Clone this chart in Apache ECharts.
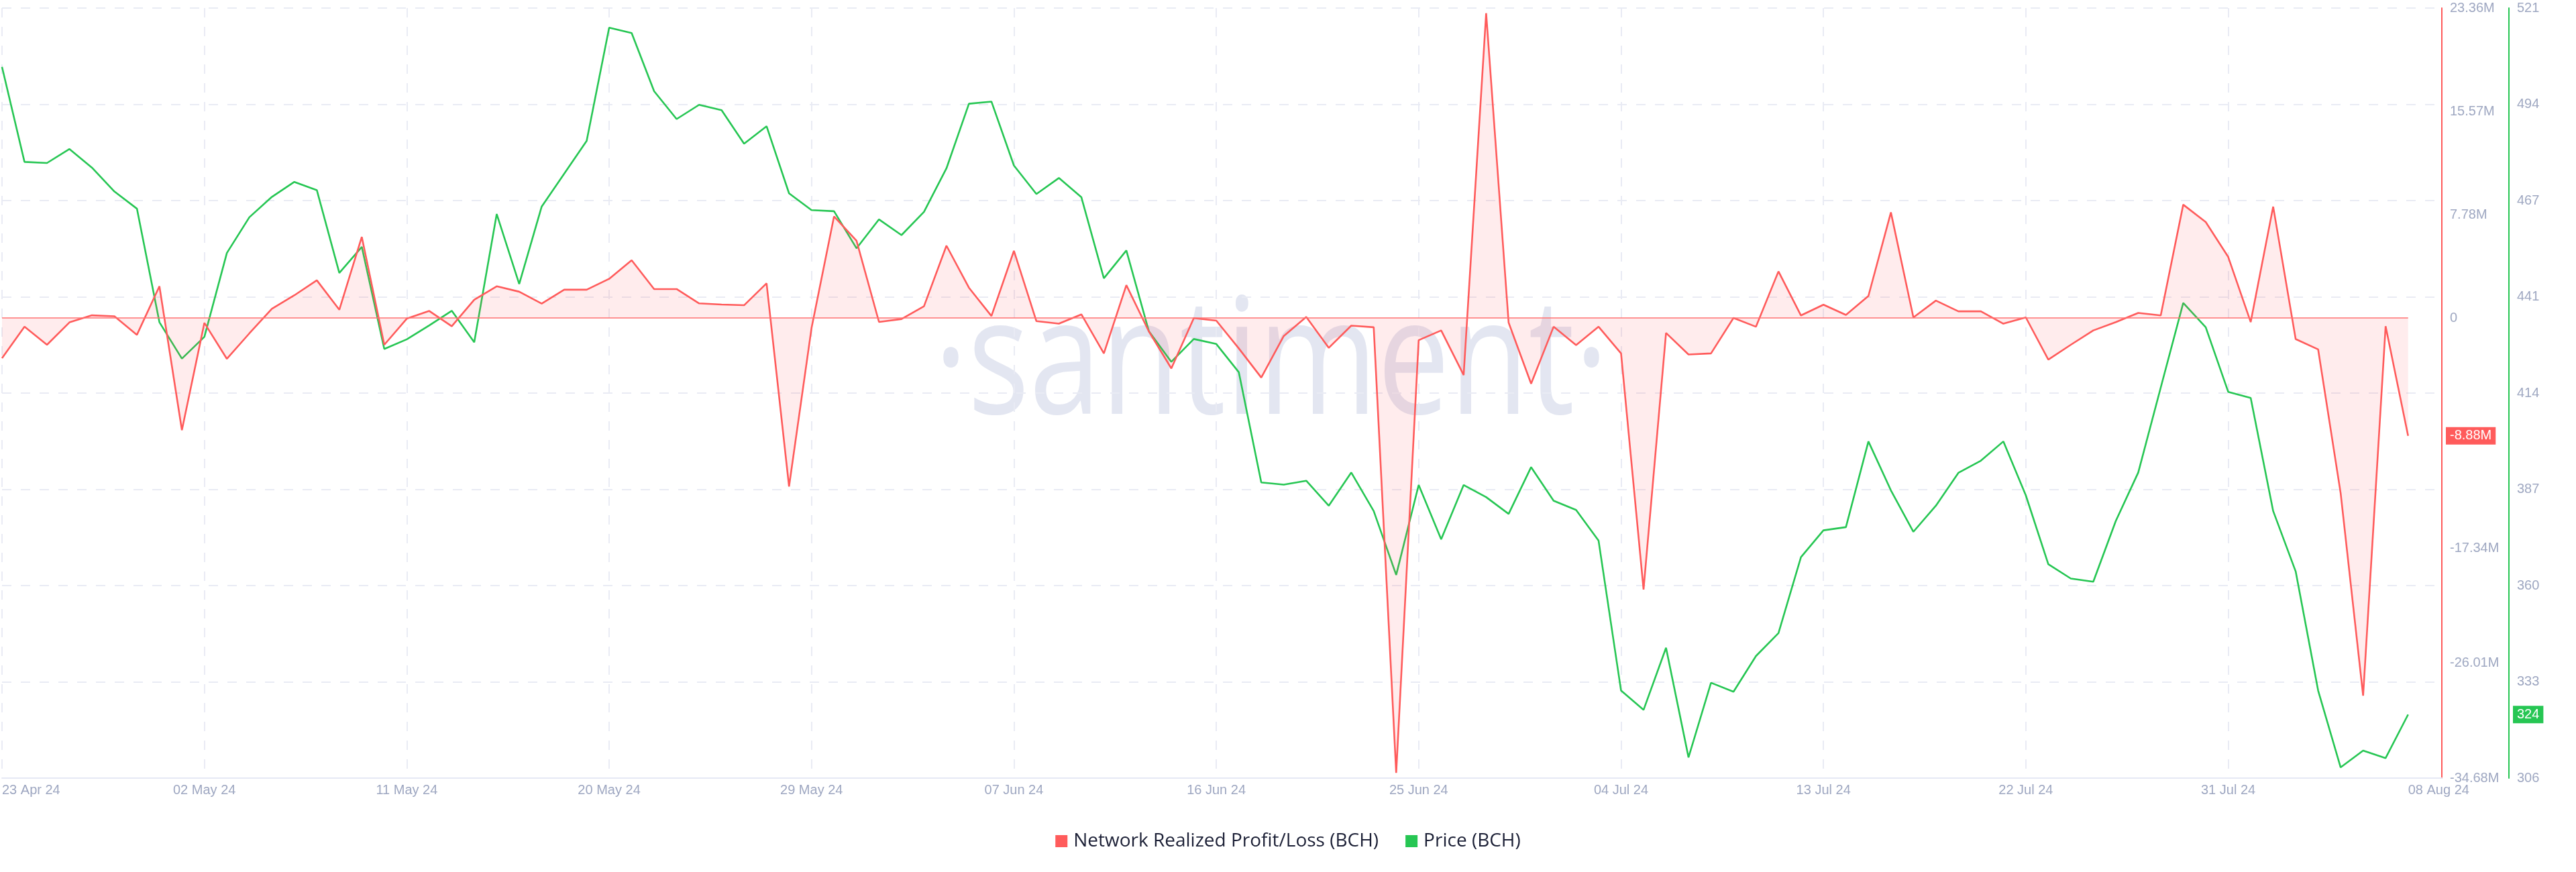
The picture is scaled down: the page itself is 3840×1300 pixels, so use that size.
<!DOCTYPE html>
<html><head><meta charset="utf-8">
<script src="https://cdn.jsdelivr.net/npm/echarts@6/dist/echarts.min.js"></script>
<style>html,body{margin:0;padding:0;background:#fff}#c{width:3840px;height:1300px}</style>
</head><body><div id="c"></div>
<script>
// Network Realized Profit/Loss (BCH), millions, daily from 23 Apr 2024
const profitLoss = [
  -3.03, -0.66, -2.02, -0.33, 0.20, 0.13, -1.27, 2.39, -8.45, -0.37,
  -3.08, -1.16, 0.69, 1.71, 2.84, 0.62, 6.11, -2.02, -0.05, 0.53,
  -0.62, 1.37, 2.39, 1.98, 1.08, 2.13, 2.13, 2.95, 4.35, 2.18,
  2.18, 1.10, 1.01, 0.96, 2.61, -12.70, -0.76, 7.65, 5.82, -0.30,
  -0.08, 0.88, 5.45, 2.28, 0.15, 5.06, -0.24, -0.43, 0.27, -2.67,
  2.47, -1.01, -3.80, -0.01, -0.20, -2.29, -4.49, -1.36, 0.08, -2.25,
  -0.58, -0.70, -34.28, -1.67, -0.94, -4.30, 22.97, -0.35, -4.95, -0.66,
  -2.05, -0.66, -2.67, -20.47, -1.13, -2.75, -2.67, 0.00, -0.66, 3.51,
  0.19, 1.00, 0.23, 1.66, 7.96, 0.04, 1.31, 0.50, 0.50, -0.43,
  0.04, -3.14, -2.02, -0.94, -0.31, 0.38, 0.19, 8.54, 7.23, 4.60,
  -0.31, 8.39, -1.59, -2.37, -13.20, -28.47, -0.62, -8.88
];
// Price (BCH), USD
const price = [
  504.9, 478.3, 478.0, 481.9, 476.7, 470.0, 465.2, 433.4, 423.2, 429.3,
  452.8, 462.8, 468.5, 472.7, 470.4, 447.2, 454.5, 425.9, 428.6, 432.5,
  436.6, 427.8, 463.7, 444.1, 465.8, 475.0, 484.2, 515.9, 514.4, 498.1,
  490.3, 494.3, 492.8, 483.4, 488.3, 469.5, 464.8, 464.5, 454.1, 462.2,
  457.8, 464.3, 476.5, 494.6, 495.2, 477.3, 469.3, 473.8, 468.4, 445.7,
  453.5, 430.9, 422.3, 428.7, 427.3, 419.4, 388.5, 387.9, 389.0, 382.0,
  391.3, 380.5, 362.6, 387.8, 372.6, 387.8, 384.4, 379.7, 392.8, 383.4,
  380.8, 372.2, 330.2, 324.8, 342.2, 311.5, 332.4, 329.9, 339.9, 346.3,
  367.6, 375.1, 376.0, 400.0, 386.3, 374.7, 382.0, 391.2, 394.6, 400.0,
  384.9, 365.6, 361.6, 360.7, 377.7, 391.3, 415.1, 438.8, 432.0, 413.9,
  412.2, 380.5, 363.6, 330.2, 308.7, 313.4, 311.3, 323.5
];
const seriesNames = ['Network Realized Profit/Loss (BCH)', 'Price (BCH)'];
// Tick labels
const xTickIndex = [0, 9, 18, 27, 36, 45, 54, 63, 72, 81, 90, 99];
const xLastLabelIndex = 107;
const profitTicks = [-34.68, -26.01, -17.34, 0, 7.78, 15.57, 23.36];
const priceTickLabels = ['306', '333', '360', '387', '414', '441', '467', '494', '521'];

// Dates (categories)
const monthNames = ['Jan','Feb','Mar','Apr','May','Jun','Jul','Aug','Sep','Oct','Nov','Dec'];
const dates = profitLoss.map((_, i) => {
  const d = new Date(Date.UTC(2024, 3, 23 + i));
  return String(d.getUTCDate()).padStart(2, '0') + ' ' + monthNames[d.getUTCMonth()] + ' ' + String(d.getUTCFullYear()).slice(2);
});

const RED = '#ff5b5b', GREEN = '#26c653', LABEL = '#9ea7c1', GRID = '#e9ebf4';
const priceMin = 305.7, priceMax = 521.4;
const priceStep = (priceMax - priceMin) / (priceTickLabels.length - 1);
const priceTickPos = priceTickLabels.map((_, k) => priceMin + k * priceStep);
const lastProfit = profitLoss[profitLoss.length - 1];
const lastPrice = price[price.length - 1];

const chart = echarts.init(document.getElementById('c'), null, {renderer: 'canvas'});
const axisFont = {fontFamily: '"Liberation Sans", Arial, sans-serif', fontSize: 20, color: LABEL};

chart.setOption({
  animation: false,
  backgroundColor: '#ffffff',
  grid: {left: 0, right: 200, top: 12, bottom: 140, containLabel: false},
  graphic: [{
    type: 'text', x: 1895, y: 548, scaleY: 1.26, z: 0, silent: true,
    style: {text: '\u00B7santiment\u00B7', fontFamily: '"Open Sans", sans-serif', fontSize: 192,
      fill: '#e3e6f1', textAlign: 'center', textVerticalAlign: 'middle'}
  }],
  legend: {
    data: seriesNames, left: 'center', top: 1235, icon: 'rect', itemWidth: 18, itemHeight: 18, itemGap: 40,
    textStyle: {fontFamily: '"Open Sans", sans-serif', fontSize: 28, color: '#1c2036', padding: [0, 0, 0, 4]}
  },
  xAxis: {
    type: 'value', min: 0, max: 108.5,
    axisLine: {show: true, onZero: false, lineStyle: {color: '#e6e8f4', width: 2}},
    axisTick: {show: false, customValues: xTickIndex},
    splitLine: {show: true, lineStyle: {color: GRID, width: 2, type: [14, 14]}},
    axisLabel: Object.assign({}, axisFont, {
      customValues: xTickIndex.concat([xLastLabelIndex]), margin: 8,
      alignMinLabel: 'left', alignMaxLabel: 'left',
      formatter: v => dates[Math.round(v)]
    })
  },
  yAxis: [{
    type: 'value', position: 'right', min: profitTicks[0], max: profitTicks[profitTicks.length - 1],
    axisLine: {show: true, onZero: false, lineStyle: {color: RED, width: 2}},
    axisTick: {show: false},
    splitLine: {show: false},
    axisLabel: Object.assign({}, axisFont, {
      customValues: profitTicks.concat([lastProfit]), margin: 6,
      formatter: v => v === lastProfit ? '{badge|' + v.toFixed(2) + 'M}' : '{n|' + (v === 0 ? '0' : v.toFixed(2) + 'M') + '}',
      rich: {
        n: {fontFamily: axisFont.fontFamily, fontSize: 20, color: LABEL, padding: [3, 6, 3, 6]},
        badge: {fontFamily: axisFont.fontFamily, fontSize: 20, color: '#ffffff', backgroundColor: RED, padding: [3, 6, 3, 6]}
      }
    })
  }, {
    type: 'value', position: 'right', offset: 100, min: priceMin, max: priceMax,
    axisLine: {show: true, onZero: false, lineStyle: {color: GREEN, width: 2}},
    axisTick: {show: false, customValues: priceTickPos},
    splitLine: {show: true, lineStyle: {color: GRID, width: 2, type: [14, 14]}},
    axisLabel: Object.assign({}, axisFont, {
      customValues: priceTickPos.concat([lastPrice]), margin: 6,
      formatter: v => {
        if (v === lastPrice) return '{badge|' + Math.round(v) + '}';
        const k = priceTickPos.findIndex(p => Math.abs(p - v) < 1e-6);
        return '{n|' + priceTickLabels[k] + '}';
      },
      rich: {
        n: {fontFamily: axisFont.fontFamily, fontSize: 20, color: LABEL, padding: [3, 6, 3, 6]},
        badge: {fontFamily: axisFont.fontFamily, fontSize: 20, color: '#ffffff', backgroundColor: GREEN, padding: [3, 6, 3, 6]}
      }
    })
  }],
  series: [{
    name: seriesNames[0], type: 'line', yAxisIndex: 0, z: 3,
    data: profitLoss.map((v, i) => [i, v]),
    symbol: 'none', color: RED,
    lineStyle: {color: RED, width: 2.6},
    areaStyle: {color: 'rgba(255, 91, 96, 0.16)', origin: 0},
    markLine: {
      silent: true, symbol: ['none', 'none'], label: {show: false},
      lineStyle: {color: '#ff7070', width: 1.5, type: 'solid'},
      data: [[{coord: [0, 0]}, {coord: [profitLoss.length - 1, 0]}]]
    }
  }, {
    name: seriesNames[1], type: 'line', yAxisIndex: 1, z: 2,
    data: price.map((v, i) => [i, v]),
    symbol: 'none', color: GREEN,
    lineStyle: {color: GREEN, width: 2.6}
  }]
});
</script></body></html>
